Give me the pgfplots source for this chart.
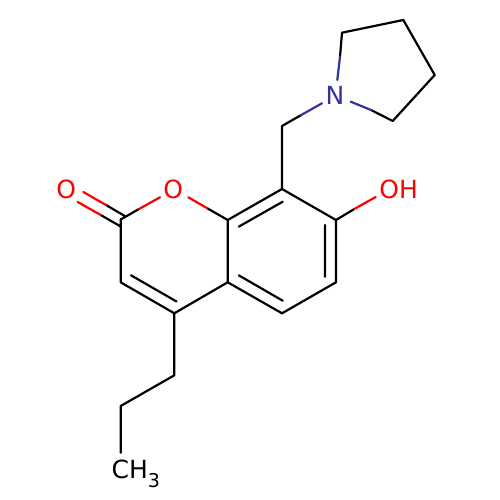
\documentclass[border=0pt]{standalone}
\usepackage{fontspec}
\setmainfont{DejaVu Sans}
\usepackage{pgfplots}
\pgfplotsset{compat=1.18}
\definecolor{oxy}{HTML}{FF0000}
\definecolor{nit}{HTML}{333399}
\tikzset{lbl/.style={font=\fontsize{25}{25}\selectfont, inner sep=0pt, anchor=base}}
\begin{document}
\begin{tikzpicture}[x=1pt,y=1pt]
\path[use as bounding box] (0,0) rectangle (500,500);
\begin{axis}[
    at={(0,0)}, anchor=south west,
    width=500pt, height=500pt, scale only axis,
    xmin=0, xmax=500, ymin=0, ymax=500,
    y dir=reverse,
    hide axis,
    clip=false,
    unbounded coords=jump,
    every axis plot/.append style={no markers, line width=2.2pt, line join=round, line cap=round},
]

% black bonds
\addplot[black] coordinates {
    (120.7,452.7)(120.7,406)(174.3,375.3)(174.3,313.3)(120.7,282.3)(120.7,219.5)(139,209)
    (nan,nan)
    (106,205)(126,216.7)
    (nan,nan)
    (100.7,215)(120.7,226.5)
    (nan,nan)
    (131,275.3)(176.5,301.5)
    (nan,nan)
    (174.3,313.3)(227.7,282.3)(227.7,220)(207.3,208.3)
    (nan,nan)
    (227.7,282.3)(282,313.3)(336,282.3)(336,220)(282,189)(227.7,220)
    (nan,nan)
    (238.7,275.3)(282.7,300.7)
    (nan,nan)
    (325,276.7)(325,225)
    (nan,nan)
    (238.7,226.7)(282.7,201.7)
    (nan,nan)
    (336,220)(354.3,209)
    (nan,nan)
    (282,189)(282,126)(300.7,115.3)
    (nan,nan)
    (340,56.7)(342,32.7)(403.3,20)(434.7,75)(392.7,121)(371,110)
};

% oxygen side of the bonds
\addplot[oxy] coordinates {
    (83.3,192)(106,205)
    (nan,nan)
    (77.7,202)(100.7,215)
    (nan,nan)
    (139,209)(160,197.3)
    (nan,nan)
    (188.3,197.3)(207.3,208.3)
    (nan,nan)
    (354.3,209)(375.7,197)
};

% nitrogen side of the bonds
\addplot[nit] coordinates {
    (300.7,115.3)(322,103.3)
    (nan,nan)
    (337.3,80)(340,56.7)
    (nan,nan)
    (350.7,101.7)(371,110)
};

\node[lbl, text=oxy] at (axis cs:66.3,198.5) {O};
\node[lbl, text=oxy] at (axis cs:173.3,198.5) {O};
\node[lbl, text=oxy] at (axis cs:398.7,198.5) {OH};
\node[lbl, text=nit] at (axis cs:335,105) {N};
\node[lbl, text=black, anchor=base west] at (axis cs:111.5,478) {CH\raisebox{-9pt}{\fontsize{19}{19}\selectfont 3}};
\end{axis}
\end{tikzpicture}
\end{document}
